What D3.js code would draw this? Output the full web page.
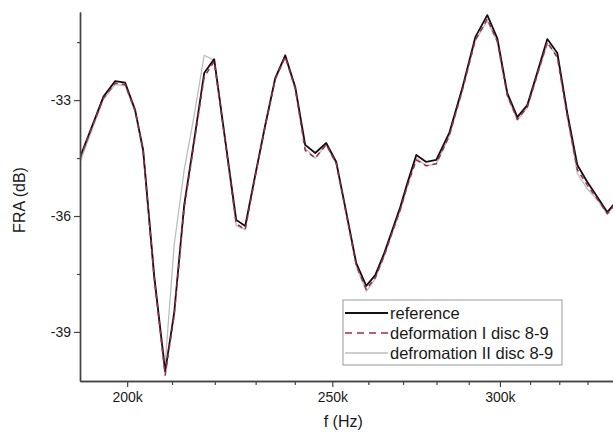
<!DOCTYPE html>
<html>
<head>
<meta charset="utf-8">
<script src="https://cdn.jsdelivr.net/npm/d3@7"></script>
<style>
  body { margin: 0; background: #fff; }
  svg text { font-family: "Liberation Sans", Arial, sans-serif; }
</style>
</head>
<body>
<div id="chart-container"></div>
<script>
// frequency points (kHz) and the three FRA traces (dB)
const freqK = [190.03, 192.46, 194.91, 197.41, 199.57, 201.75, 203.51, 205.96, 208.44, 210.49,
  212.80, 215.13, 217.48, 219.86, 222.51, 225.19, 227.40, 229.89, 232.40, 234.95,
  237.52, 240.12, 242.74, 245.40, 248.35, 251.07, 253.82, 256.60, 259.40, 261.96,
  264.53, 266.85, 269.18, 271.24, 273.91, 276.90, 279.93, 283.92, 287.97, 292.07,
  295.91, 299.15, 302.42, 305.73, 309.07, 312.45, 315.87, 319.33, 322.82, 326.35,
  329.92, 333.53, 337.18, 340.87];

const reference = [-34.47, -33.69, -32.91, -32.51, -32.55, -33.26, -34.29, -37.53, -40.03, -38.51,
  -35.72, -34.03, -32.30, -31.94, -34.03, -36.10, -36.26, -34.94, -33.65, -32.43,
  -31.84, -32.66, -34.16, -34.37, -34.11, -34.60, -35.90, -37.22, -37.81, -37.53,
  -36.96, -36.36, -35.77, -35.15, -34.42, -34.60, -34.55, -33.85, -32.69, -31.37,
  -30.80, -31.40, -32.82, -33.44, -33.13, -32.28, -31.42, -31.78, -33.34, -34.68,
  -35.12, -35.51, -35.90, -35.59];

const deformationI = [-34.50, -33.72, -32.95, -32.56, -32.60, -33.28, -34.31, -37.58, -40.12, -38.58,
  -35.80, -34.10, -32.40, -32.00, -34.08, -36.20, -36.35, -34.98, -33.68, -32.46,
  -31.88, -32.70, -34.30, -34.50, -34.15, -34.64, -35.95, -37.28, -37.90, -37.60,
  -37.02, -36.42, -35.84, -35.22, -34.55, -34.70, -34.65, -33.92, -32.75, -31.45,
  -30.90, -31.48, -32.88, -33.50, -33.18, -32.34, -31.50, -31.90, -33.42, -34.80,
  -35.20, -35.56, -35.94, -35.62];

const deformationII = [-34.60, -33.78, -32.98, -32.60, -32.62, -33.30, -34.40, -37.70, -39.85, -36.75,
  -34.81, -33.39, -31.84, -31.97, -34.08, -36.25, -36.35, -35.00, -33.70, -32.48,
  -31.90, -32.72, -34.25, -34.50, -34.16, -34.66, -35.96, -37.30, -37.95, -37.62,
  -37.04, -36.44, -35.86, -35.24, -34.50, -34.70, -34.65, -33.94, -32.76, -31.46,
  -30.95, -31.50, -32.90, -33.52, -33.20, -32.36, -31.55, -31.85, -33.44, -34.90,
  -35.30, -35.58, -35.95, -35.63];

const majorXTicks = [200000, 250000, 300000];
const minorXTicks = [210000, 220000, 230000, 240000, 260000, 270000, 280000, 290000, 310000, 320000, 330000, 340000];
const majorYTicks = [-33, -36, -39];
const minorYTicks = [-31.5, -34.5, -37.5];

const legendLabels = ["reference", "deformation I disc 8-9", "defromation II disc 8-9"];

// Set dimensions and margins for the chart
const totalW = 613, totalH = 432;
const margin = {top: 12, right: -2, bottom: 51, left: 80};
const width = totalW - margin.left - margin.right;
const height = totalH - margin.top - margin.bottom;

const x = d3.scaleLog().domain([190000, 340000]).range([0, width]);
const y = d3.scaleLinear().domain([-40.27, -30.72]).range([height, 0]);

const svg = d3.select("#chart-container")
  .append("svg")
    .attr("width", totalW)
    .attr("height", totalH)
  .append("g")
    .attr("transform", `translate(${margin.left},${margin.top})`);

svg.append("clipPath")
    .attr("id", "plot-clip")
  .append("rect")
    .attr("x", 0)
    .attr("y", -margin.top)
    .attr("width", width)
    .attr("height", height + margin.top);

const series = [
  {name: legendLabels[2], values: deformationII, color: "#bdbdbd", width: 1.3, dash: null},
  {name: legendLabels[0], values: reference, color: "#111111", width: 1.8, dash: null},
  {name: legendLabels[1], values: deformationI, color: "#a3284e", width: 1.5, dash: "5 4"}
];

const line = d3.line()
  .x(d => x(d[0] * 1000))
  .y(d => y(d[1]));

const plot = svg.append("g").attr("clip-path", "url(#plot-clip)");
series.forEach(s => {
  plot.append("path")
    .datum(freqK.map((f, i) => [f, s.values[i]]))
    .attr("fill", "none")
    .attr("stroke", s.color)
    .attr("stroke-width", s.width)
    .attr("stroke-dasharray", s.dash)
    .attr("stroke-linejoin", "round")
    .attr("d", line);
});

// axes
const axisColor = "#444";
const kFormat = d => (d / 1000) + "k";

function styleAxis(g) {
  g.select(".domain").attr("stroke", axisColor).attr("stroke-width", 1.4);
  g.selectAll(".tick line").attr("stroke", axisColor).attr("stroke-width", 1.2);
  g.selectAll(".tick text")
    .attr("fill", "#1a1a1a")
    .style("font-size", "14px")
    .style("font-family", "'Liberation Sans', Arial, sans-serif");
}

svg.append("g")
  .attr("transform", `translate(0,${height})`)
  .call(d3.axisBottom(x).tickValues(minorXTicks).tickFormat("").tickSize(4).tickSizeOuter(0))
  .call(styleAxis);

svg.append("g")
  .attr("transform", `translate(0,${height})`)
  .call(d3.axisBottom(x).tickValues(majorXTicks).tickFormat(kFormat).tickSize(6).tickSizeOuter(0).tickPadding(5))
  .call(styleAxis);

svg.append("g")
  .call(d3.axisLeft(y).tickValues(minorYTicks).tickFormat("").tickSize(3).tickSizeOuter(0))
  .call(styleAxis);

svg.append("g")
  .call(d3.axisLeft(y).tickValues(majorYTicks).tickFormat(d => d).tickSize(6).tickSizeOuter(0).tickPadding(3))
  .call(styleAxis);

// axis titles
svg.append("text")
  .attr("transform", "rotate(-90)")
  .attr("x", -(188))
  .attr("y", -55)
  .style("text-anchor", "middle")
  .style("font-size", "16px")
  .attr("fill", "#1a1a1a")
  .text("FRA (dB)");

svg.append("text")
  .attr("x", x(253000))
  .attr("y", height + 46)
  .style("text-anchor", "middle")
  .style("font-size", "16px")
  .attr("fill", "#1a1a1a")
  .text("f (Hz)");

// legend
const legend = svg.append("g")
  .attr("transform", `translate(${343 - margin.left},${300 - margin.top})`);

legend.append("rect")
  .attr("width", 219)
  .attr("height", 65)
  .attr("fill", "#fff")
  .attr("stroke", "#999")
  .attr("stroke-width", 1);

const legendOrder = [series[1], series[2], series[0]];
legendOrder.forEach((s, i) => {
  const ly = 13 + i * 20;
  legend.append("line")
    .attr("x1", 2).attr("x2", 45)
    .attr("y1", ly).attr("y2", ly)
    .attr("stroke", s.color)
    .attr("stroke-width", s.width)
    .attr("stroke-dasharray", s.dash ? "7 5" : null);
  legend.append("text")
    .attr("x", 47)
    .attr("y", ly + 6)
    .style("font-size", "16.5px")
    .attr("fill", "#1a1a1a")
    .text(s.name);
});
</script>
</body>
</html>
